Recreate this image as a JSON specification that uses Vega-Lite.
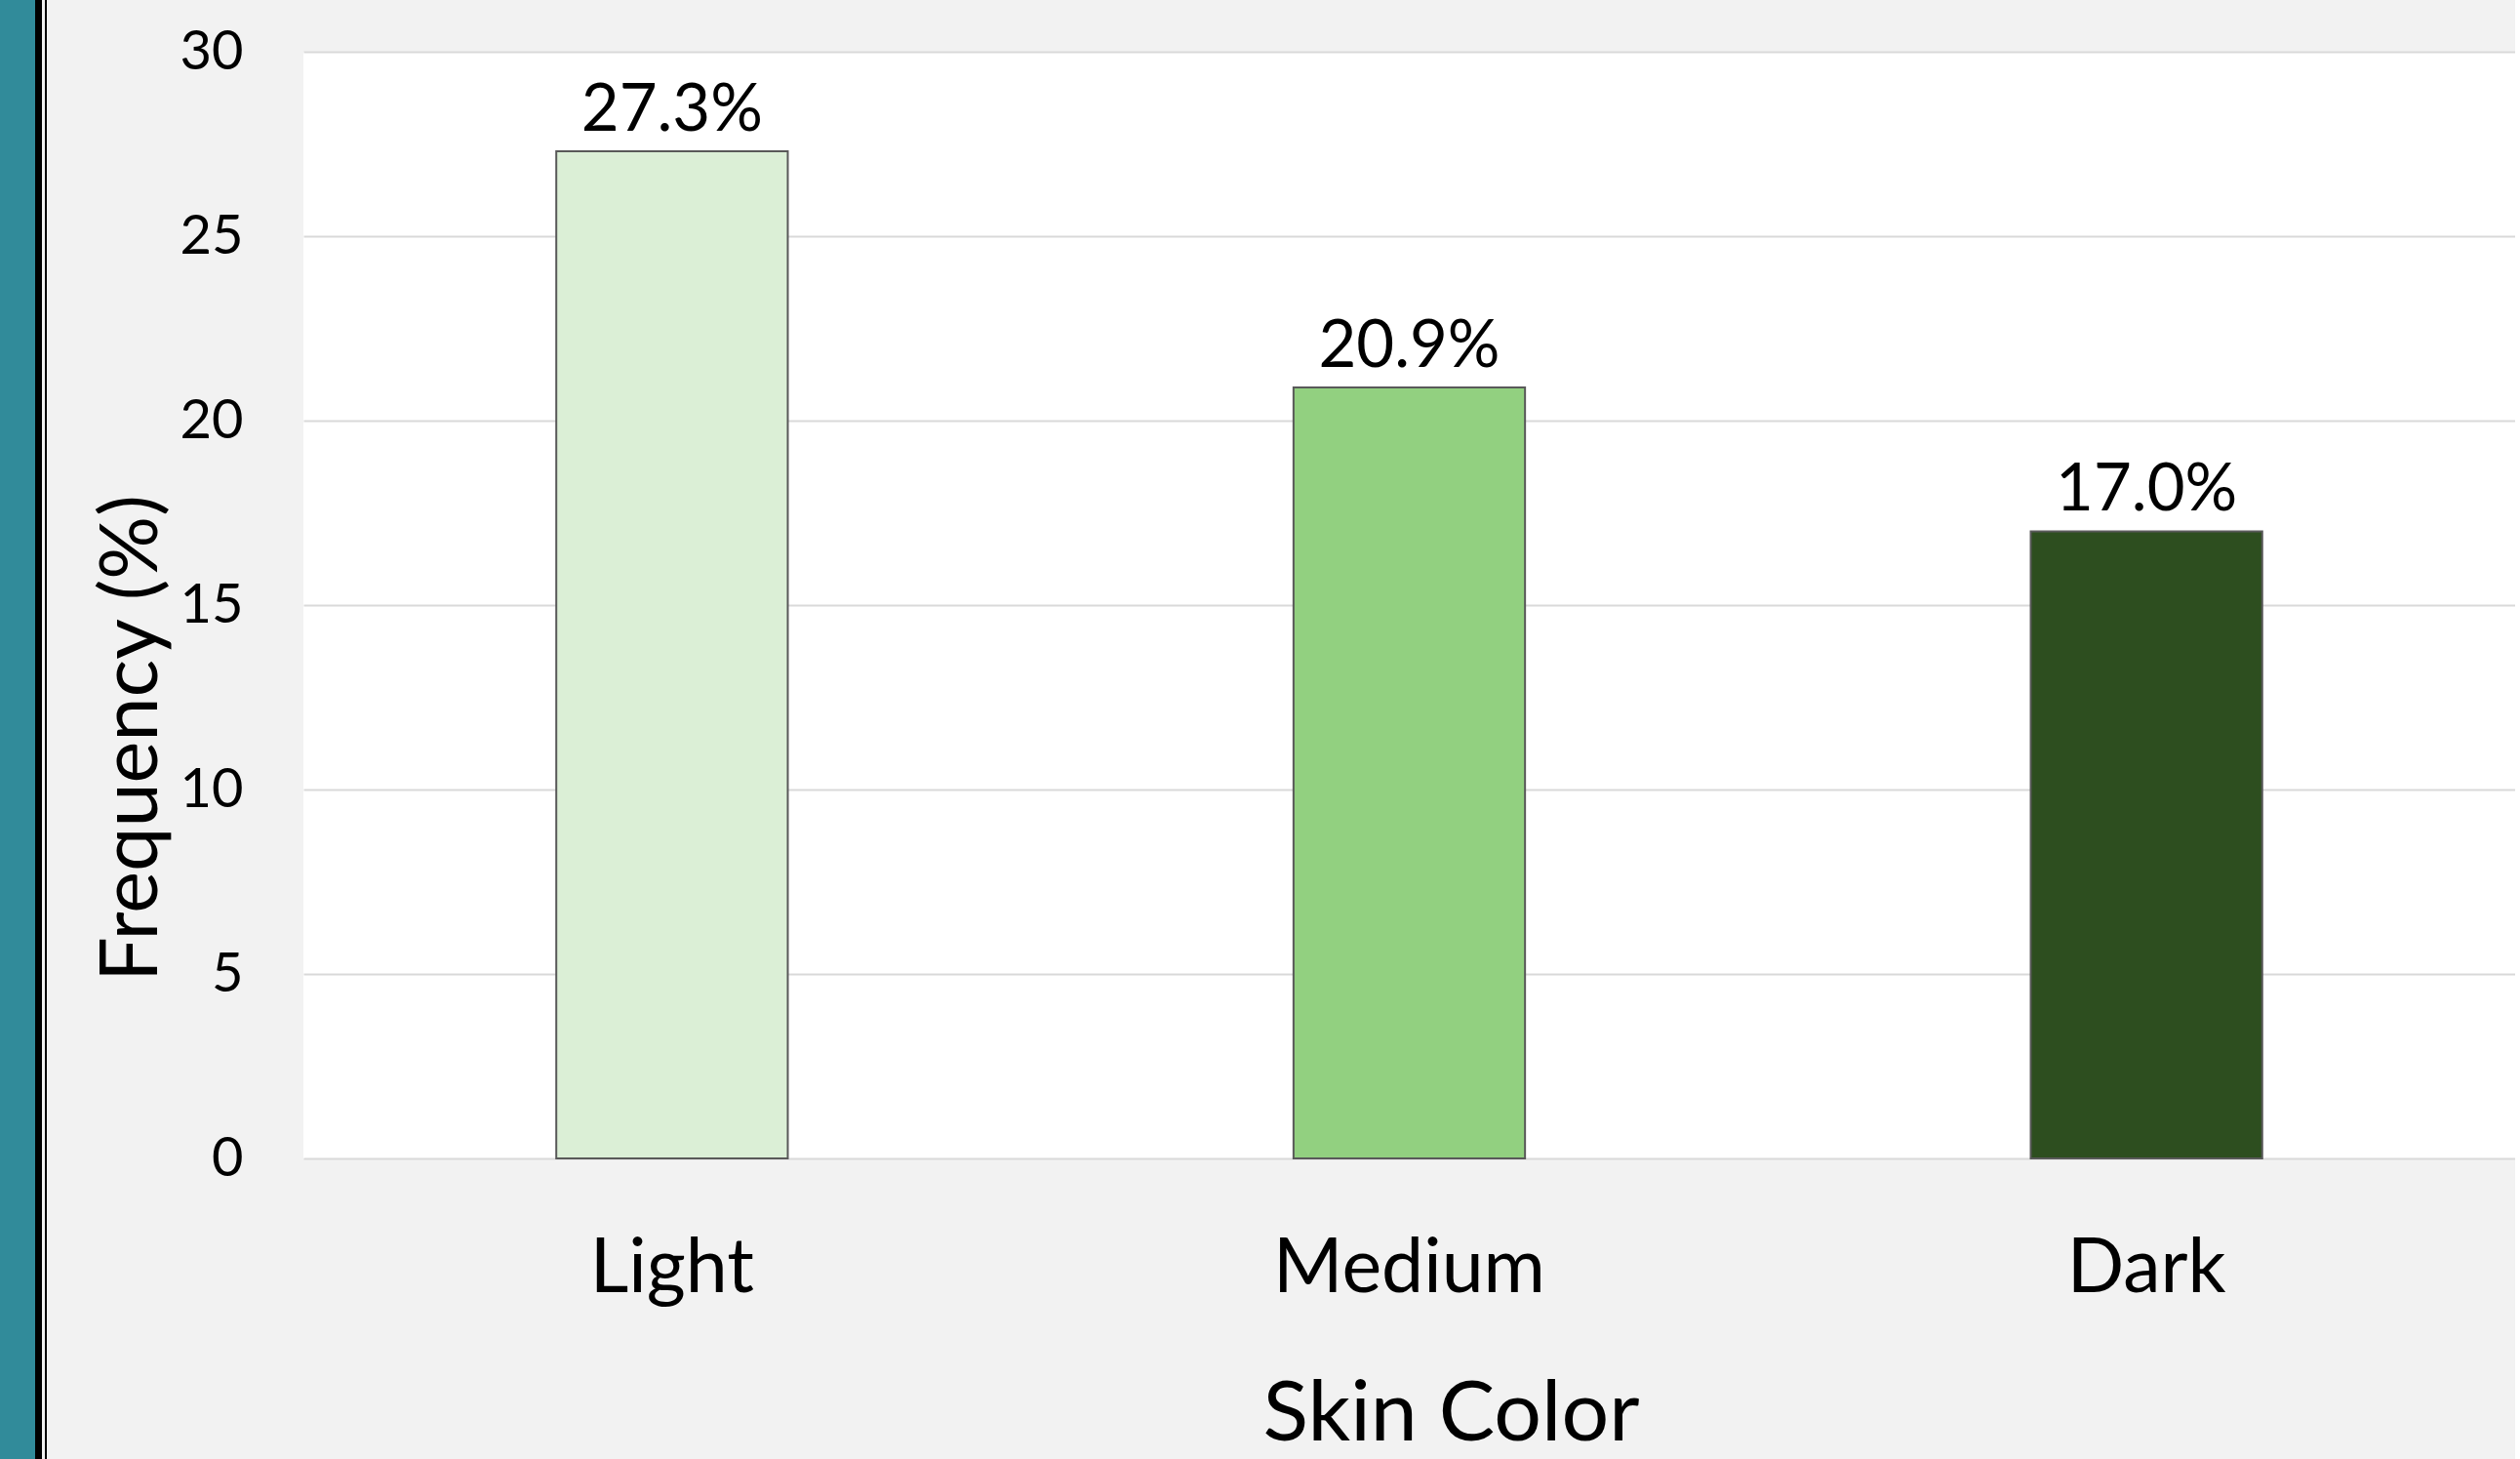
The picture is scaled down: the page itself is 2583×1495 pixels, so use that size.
{
  "$schema": "https://vega.github.io/schema/vega-lite/v6.json",
  "background": "#f2f2f2",
  "padding": 0,
  "spacing": 0,
  "bounds": "flush",
  "config": {
    "font": "Lato",
    "view": {"stroke": null},
    "axis": {"labelColor": "#000000", "titleColor": "#000000", "titleFontWeight": "normal", "labelLimit": 0}
  },
  "hconcat": [
    {
      "width": 36, "height": 1495,
      "data": {"values": []},
      "mark": "rect", "encoding": {},
      "view": {"fill": "#318b9a", "stroke": null}
    },
    {
      "width": 7, "height": 1495,
      "data": {"values": []},
      "mark": "rect", "encoding": {},
      "view": {"fill": "#000000", "stroke": null}
    },
    {
      "width": 3, "height": 1495,
      "data": {"values": []},
      "mark": "rect", "encoding": {},
      "view": {"stroke": null}
    },
    {
      "width": 2, "height": 1495,
      "data": {"values": []},
      "mark": "rect", "encoding": {},
      "view": {"fill": "#000000", "stroke": null}
    },
    {
      "width": 263, "height": 1495,
      "data": {"values": []},
      "mark": "rect", "encoding": {},
      "view": {"stroke": null}
    },
    {
      "spacing": 0,
      "bounds": "flush",
      "vconcat": [
        {
          "width": 2267, "height": 53,
          "data": {"values": []},
          "mark": "rect", "encoding": {},
          "view": {"stroke": null}
        },
        {
          "width": 2267, "height": 1134,
          "view": {"fill": "#ffffff", "stroke": null},
          "data": {
            "values": [
              {"skin": "Light", "freq": 27.3, "label": "27.3%"},
              {"skin": "Medium", "freq": 20.9, "label": "20.9%"},
              {"skin": "Dark", "freq": 17.0, "label": "17.0%"}
            ]
          },
          "encoding": {
            "x": {
              "field": "skin", "type": "nominal", "sort": null,
              "scale": {"paddingInner": 0.686, "paddingOuter": 0.343},
              "axis": {
                "title": "Skin Color",
                "domain": false, "ticks": false, "tickSize": 0, "grid": false,
                "labelAngle": 0, "labelFontSize": 77, "labelBaseline": "alphabetic", "labelPadding": 136, "labelLimit": 0,
                "titleFontSize": 86, "titleBaseline": "alphabetic", "titleAlign": "center",
                "titleX": 1176, "titleY": 288
              }
            },
            "y": {
              "field": "freq", "type": "quantitative",
              "scale": {"domain": [0, 30], "nice": false},
              "axis": {
                "title": "Frequency (%)",
                "values": [0, 5, 10, 15, 20, 25, 30],
                "domain": false, "ticks": false, "tickSize": 0,
                "grid": true, "gridColor": "#d9d9d9", "gridWidth": 2,
                "labelFontSize": 56, "labelPadding": 62,
                "titleFontSize": 81, "titleAngle": -90, "titleBaseline": "alphabetic", "titleAlign": "center",
                "titleX": -151, "titleY": 703
              }
            }
          },
          "layer": [
            {
              "mark": {"type": "bar", "stroke": "#595959", "strokeWidth": 2},
              "encoding": {
                "color": {
                  "field": "skin", "type": "nominal",
                  "scale": {"domain": ["Light", "Medium", "Dark"], "range": ["#dbefd6", "#92d080", "#2d4e1f"]},
                  "legend": null
                }
              }
            },
            {
              "mark": {"type": "text", "baseline": "alphabetic", "align": "center", "dy": -21, "fontSize": 67, "color": "#000000"},
              "encoding": {"text": {"field": "label"}}
            }
          ]
        }
      ]
    }
  ]
}
